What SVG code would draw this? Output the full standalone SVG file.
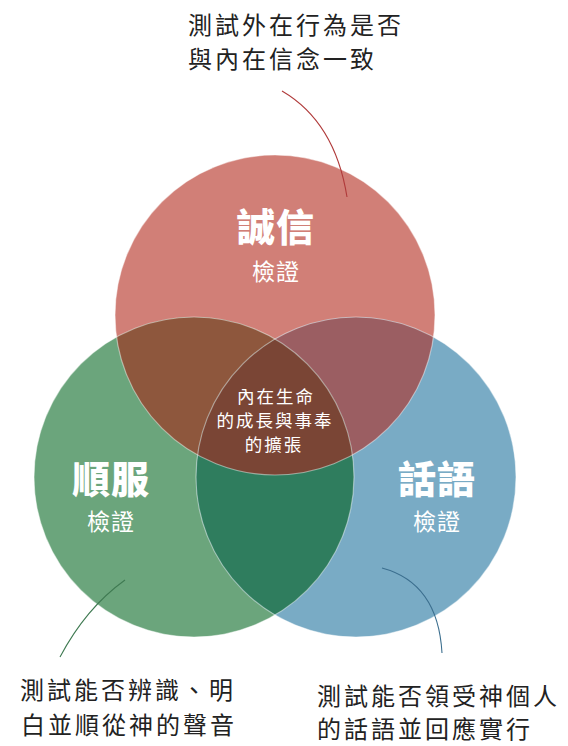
<svg xmlns="http://www.w3.org/2000/svg" width="568" height="746" viewBox="0 0 568 746">
<style>
.lbl{font-family:"Noto Sans CJK TC","Noto Sans CJK SC",sans-serif;fill:#222;font-size:24px;letter-spacing:3px}
.title{font-family:"Noto Sans CJK TC","Noto Sans CJK SC",sans-serif;fill:#fff;font-size:38px;font-weight:800;text-anchor:middle;letter-spacing:1px}
.sub{font-family:"Noto Sans CJK TC","Noto Sans CJK SC",sans-serif;fill:#fff;font-size:23px;text-anchor:middle;letter-spacing:1px}
.ctr{font-family:"Noto Sans CJK TC","Noto Sans CJK SC",sans-serif;fill:#fff;font-size:17.5px;text-anchor:middle;letter-spacing:2px}
.edge{fill:none;stroke:#fff;stroke-opacity:0.45;stroke-width:1.2}
.lead{fill:none;stroke-width:1.1}
</style>
<defs>
<clipPath id="cR"><circle cx="275" cy="315" r="160"/></clipPath>
<clipPath id="cG"><circle cx="194" cy="477" r="160"/></clipPath>
</defs>
<g id="circles">
<circle cx="275" cy="315" r="160" fill="#D17F77"/>
<circle cx="194" cy="477" r="160" fill="#6BA57C"/>
<circle cx="356" cy="477" r="160" fill="#79ABC5"/>
<g clip-path="url(#cR)"><circle cx="194" cy="477" r="160" fill="#8E573D"/></g>
<g clip-path="url(#cR)"><circle cx="356" cy="477" r="160" fill="#9B5E62"/></g>
<g clip-path="url(#cG)"><circle cx="356" cy="477" r="160" fill="#2F7D5E"/></g>
<g clip-path="url(#cR)"><g clip-path="url(#cG)"><circle cx="356" cy="477" r="160" fill="#7A4535"/></g></g>
<circle class="edge" cx="275" cy="315" r="160"/>
<circle class="edge" cx="194" cy="477" r="160"/>
<circle class="edge" cx="356" cy="477" r="160"/>
</g>
<g id="connectors">
<path class="lead" stroke="#B03A3A" d="M282,91 Q335,122 347,197"/>
<path class="lead" stroke="#3F7A52" d="M125,580 Q86,608 60,657"/>
<path class="lead" stroke="#3B6E8E" d="M382,568 Q438,583 442,653"/>
</g>
<g id="node-integrity">
<text class="title" x="276" y="241">誠信</text>
<text class="sub" x="276" y="280">檢證</text>
</g>
<g id="node-obedience">
<text class="title" x="111" y="493">順服</text>
<text class="sub" x="111" y="530">檢證</text>
</g>
<g id="node-word">
<text class="title" x="437" y="493">話語</text>
<text class="sub" x="437" y="530">檢證</text>
</g>
<g id="node-center">
<text class="ctr" x="276" y="403">內在生命</text>
<text class="ctr" x="275" y="427">的成長與事奉</text>
<text class="ctr" x="274" y="451">的擴張</text>
</g>
<g id="label-top">
<text class="lbl" x="188" y="34">測試外在行為是否</text>
<text class="lbl" x="188" y="68">與內在信念一致</text>
</g>
<g id="label-left">
<text class="lbl" x="20" y="699">測試能否辨識、明</text>
<text class="lbl" x="21" y="734">白並順從神的聲音</text>
</g>
<g id="label-right">
<text class="lbl" x="317" y="705">測試能否領受神個人</text>
<text class="lbl" x="317" y="738">的話語並回應實行</text>
</g>
</svg>
